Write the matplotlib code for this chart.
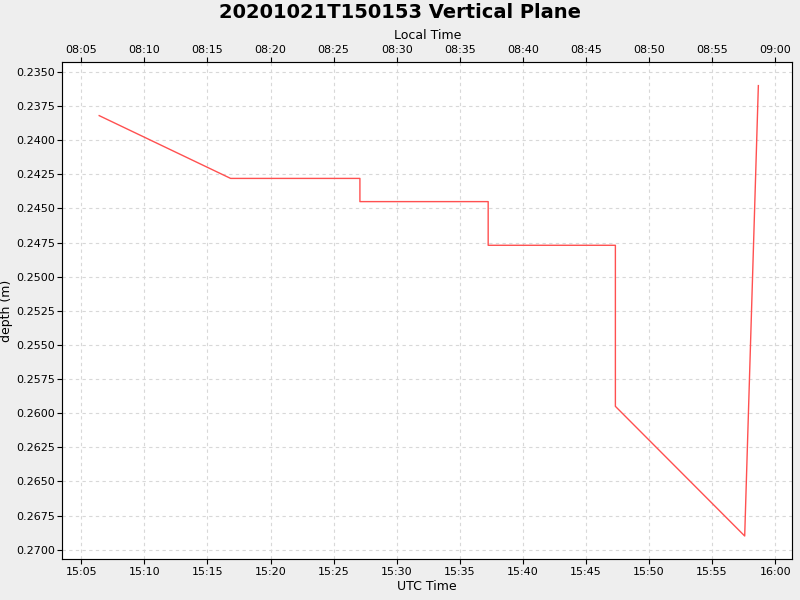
import matplotlib
matplotlib.use("Agg")
import matplotlib.pyplot as plt
import matplotlib.dates as mdates
import pandas as pd
import numpy as np

times = ["15:06:25", "15:16:50", "15:27:05", "15:27:05", "15:37:15", "15:37:15",
         "15:47:20", "15:47:20", "15:57:35", "15:58:40"]
depths = [0.2382, 0.2428, 0.2428, 0.2445, 0.2445, 0.2477, 0.2477, 0.2595, 0.2690, 0.2360]

t = pd.to_datetime(["2020-10-21 " + s for s in times])

fig = plt.figure(figsize=(8, 6), dpi=100, facecolor="#eeeeee")
ax = fig.add_axes([0.078, 0.068, 0.912, 0.828])
ax.set_facecolor("white")
ax.plot(t, depths, color="#ff5050", lw=1)
ax.set_ylim(0.2707, 0.2343)
ax.set_yticks(np.arange(0.2350, 0.27001, 0.0025))
ax.yaxis.set_major_formatter(matplotlib.ticker.FormatStrFormatter("%.4f"))
x0 = pd.Timestamp("2020-10-21 15:03:30"); x1 = pd.Timestamp("2020-10-21 16:01:20")
ax.set_xlim(x0, x1)
ax.xaxis.set_major_locator(mdates.MinuteLocator(byminute=range(0, 60, 5)))
ax.xaxis.set_major_formatter(mdates.DateFormatter("%H:%M"))
ax.grid(True, color="#d8d8d8", ls=(0, (3, 3)), lw=0.8)
ax.tick_params(labelsize=8, pad=2)
ax.set_xlabel("UTC Time", fontsize=9, labelpad=2)
ax.set_ylabel("depth (m)", fontsize=9)
ax.yaxis.set_label_coords(-0.068, 0.5)
for s in ax.spines.values():
    s.set_color("#888888")

ax2 = ax.twiny()
ax2.set_xlim(x0 - pd.Timedelta(hours=7), x1 - pd.Timedelta(hours=7))
ax2.xaxis.set_major_locator(mdates.MinuteLocator(byminute=range(0, 60, 5)))
ax2.xaxis.set_major_formatter(mdates.DateFormatter("%H:%M"))
ax2.tick_params(labelsize=8, pad=2)
ax2.set_xlabel("Local Time", fontsize=9, labelpad=4)

fig.suptitle("20201021T150153 Vertical Plane", fontsize=14, fontweight="bold", y=0.995)
fig.savefig("out.png", facecolor=fig.get_facecolor())
